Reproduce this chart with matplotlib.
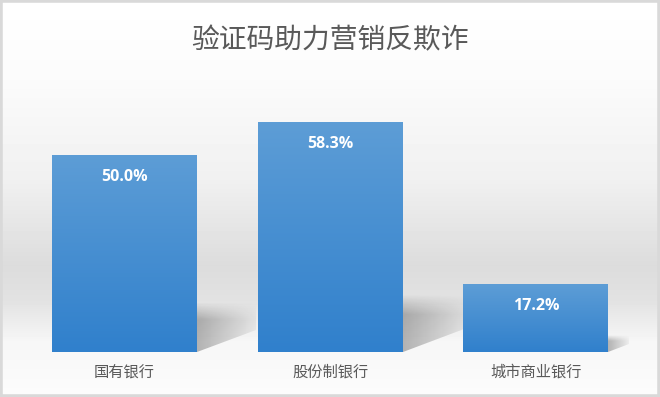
import numpy as np
import matplotlib
matplotlib.use('Agg')
import matplotlib.pyplot as plt
from matplotlib.patches import Rectangle, Polygon
from matplotlib.colors import to_rgb

categories = ['国有银行', '股份制银行', '城市商业银行']
values = [50.0, 58.3, 17.2]
value_labels = ['50.0%', '58.3%', '17.2%']
title = '验证码助力营销反欺诈'

plt.rcParams['font.family'] = ['Noto Sans CJK SC', 'DejaVu Sans']

fig = plt.figure(figsize=(6.6, 3.97), dpi=100)

# background gradient (white top, grey band, lighter near the floor)
bg = fig.add_axes([0, 0, 1, 1], zorder=-2)
stops_y = [0, 80, 180, 265, 300, 340, 397]
stops_g = [255, 251, 240, 220, 226, 246, 252]
yy = np.arange(397)
gray = np.interp(yy, stops_y, stops_g) / 255.0
bg.imshow(np.repeat(gray[:, None], 2, axis=1), cmap='gray', vmin=0, vmax=1,
          aspect='auto', extent=(0, 1, 0, 1))
bg.set_axis_off()

ax = fig.add_axes([21.75 / 660, 45 / 397, 617 / 660, 276 / 397])
ax.set_facecolor('none')
ax.set_xlim(-0.5, 2.5)
ax.set_ylim(0, 70)

width = 0.705
top_c = np.array(to_rgb('#5d9dd6'))
bot_c = np.array(to_rgb('#3080cc'))
t = np.linspace(0, 1, 100)[:, None]
grad = (top_c * (1 - t) + bot_c * t)[:, None, :].repeat(2, axis=1)

px_x = 205.5  # pixels per category unit
px_y = 276 / 70

for i, v in enumerate(values):
    x0, x1 = i - width / 2, i + width / 2
    # shadow behind the bar
    hs = v * 0.25
    dx = 1.2 * hs * px_y / px_x
    poly = Polygon([(x1, 0), (x1, hs), (x1 + dx, hs), (x1 + dx, hs * 0.45)],
                   closed=True, facecolor='none', edgecolor='none')
    ax.add_patch(poly)
    u = np.linspace(0, 1, 60)[None, :]
    w = np.linspace(1, 0, 60)[:, None]
    alpha = 0.28 * (1 - 0.85 * u) * np.clip((1 - w) / 0.35, 0, 1)
    sh = np.zeros((60, 60, 4))
    sh[..., 3] = alpha
    im = ax.imshow(sh, extent=(x1, x1 + dx, 0, hs), aspect='auto', zorder=1,
                   interpolation='bilinear')
    im.set_clip_path(poly)

    rect = Rectangle((x0, 0), width, v, facecolor='none', edgecolor='none', zorder=2)
    ax.add_patch(rect)
    im = ax.imshow(grad, extent=(x0, x1, 0, v), aspect='auto', zorder=2,
                   interpolation='bilinear')
    im.set_clip_path(rect)

    ax.annotate(value_labels[i], (i, v), xytext=(0, -15.8), textcoords='offset points',
                ha='center', va='center', color='white', fontsize=11.5,
                fontweight='bold', family=['Open Sans', 'DejaVu Sans'], zorder=3)

ax.set_xticks(range(len(categories)))
ax.set_xticklabels(categories, fontsize=11, color='#595959')
ax.tick_params(axis='x', length=0, pad=8)
ax.set_yticks([])
for s in ax.spines.values():
    s.set_visible(False)

fig.text(0.5, 1 - 40 / 397, title, ha='center', va='center', fontsize=20,
         color='#595959')

fig.patches.append(Rectangle((0, 0), 1, 1, transform=fig.transFigure, fill=False,
                             edgecolor='#d9d9d9', linewidth=4, zorder=10))

fig.savefig('out.png', dpi=100)
